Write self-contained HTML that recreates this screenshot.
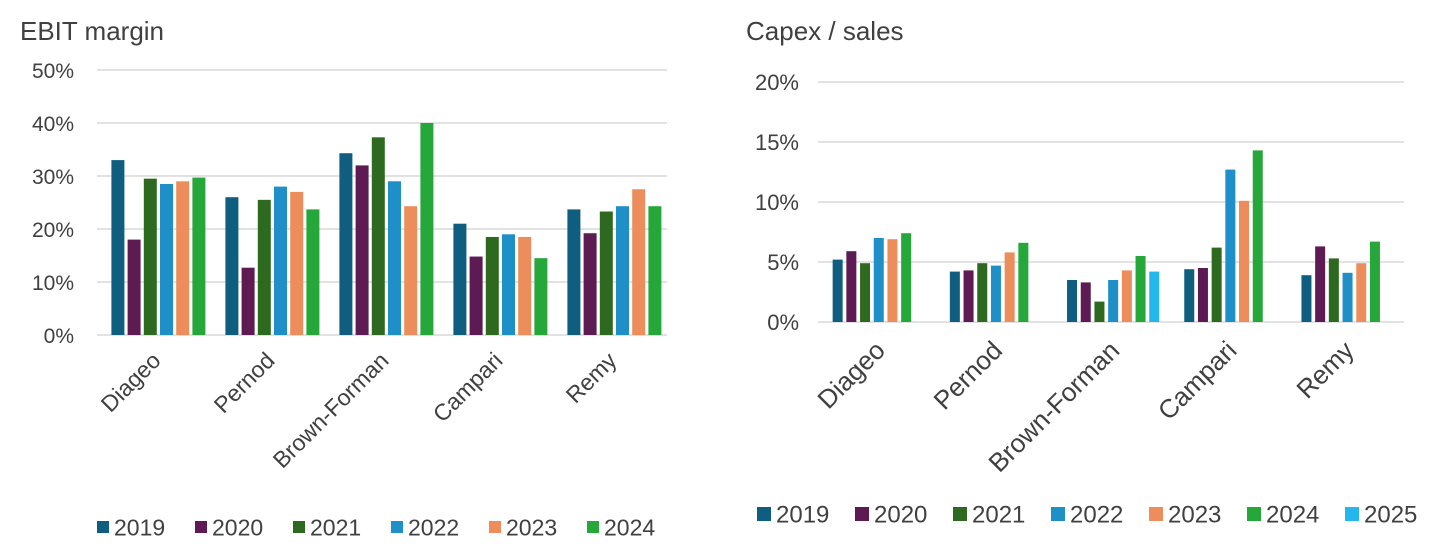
<!DOCTYPE html>
<html><head><meta charset="utf-8">
<style>
body{margin:0;background:#fff;}
svg{display:block;font-family:"Liberation Sans",Arial,sans-serif;}
</style></head>
<body>
<svg id="c" width="1456" height="556"></svg>
<script>
const categories=["Diageo","Pernod","Brown-Forman","Campari","Remy"];
const years1=["2019","2020","2021","2022","2023","2024"];
const ebit2019=[33,26,34.3,21,23.7];
const ebit2020=[18,12.7,32,14.8,19.2];
const ebit2021=[29.5,25.5,37.3,18.5,23.3];
const ebit2022=[28.5,28,29,19,24.3];
const ebit2023=[29,27,24.3,18.5,27.5];
const ebit2024=[29.7,23.7,40,14.5,24.3];
const ebitTicks=[0,10,20,30,40,50];
const years2=["2019","2020","2021","2022","2023","2024","2025"];
const capex2019=[5.2,4.2,3.5,4.4,3.9];
const capex2020=[5.9,4.3,3.3,4.5,6.3];
const capex2021=[4.9,4.9,1.7,6.2,5.3];
const capex2022=[7.0,4.7,3.5,12.7,4.1];
const capex2023=[6.9,5.8,4.3,10.1,4.9];
const capex2024=[7.4,6.6,5.5,14.3,6.7];
const capex2025=[null,null,4.2,null,null];
const capexTicks=[0,5,10,15,20];
const colors=["#0f5e7f","#5e1a53","#2d6a1f","#1f8fc8","#ec8d5b","#25a73a","#24b7ec"];

const svg=document.getElementById('c');
const NS="http://www.w3.org/2000/svg";
function mk(tag,attrs,parent){const e=document.createElementNS(NS,tag);for(const k in attrs)e.setAttribute(k,attrs[k]);(parent||svg).appendChild(e);return e;}

function chart(o){
  const g=mk('g',{});
  
  
  const t=mk('text',{x:o.titleX,y:40,'font-size':26,fill:'#404040'},g);t.textContent=o.title;
  
  
  const y=v=>o.y0-(v/o.max)*(o.y0-o.y1);
  o.ticks.forEach(tv=>{
    const l=mk('line',{x1:o.x0,x2:o.x1,y1:y(tv),y2:y(tv),stroke:'#d9d9d9','stroke-width':1.5},g);
    
    
    const tx=mk('text',{x:o.tickX,y:y(tv)+8,'font-size':o.tickFs,fill:'#404040','text-anchor':'end'},g);
    tx.textContent=tv+'%';
    
    
  });
  const gw=(o.x1-o.x0)/categories.length;
  const ns=o.series.length;
  categories.forEach((c,i)=>{
    const start=o.x0+i*gw+(gw-ns*o.step)/2+o.shift;
    o.series.forEach((s,j)=>{
      const v=s[i]; if(v==null) return;
      const r=mk('rect',{x:start+j*o.step,y:y(v),width:o.bw,height:o.y0-y(v),fill:colors[j]},g);
      
      
    });
    const cx=o.x0+i*gw+gw/2+o.labShift;
    const lb=mk('text',{x:cx,y:o.labY,'font-size':o.labFs,fill:'#404040','text-anchor':'end',transform:`rotate(-45 ${cx} ${o.labY})`},g);
    lb.textContent=c;
    
    
  });
  o.years.forEach((yr,j)=>{
    const lx=o.legX+j*o.legStep;
    const sq=mk('rect',{x:lx,y:o.legY-o.sq/2,width:o.sq,height:o.sq,fill:colors[j]},g);
    
    
    const lt=mk('text',{x:lx+o.sq+5,y:o.legY+o.legFs*0.36,'font-size':o.legFs,fill:'#404040'},g);
    lt.textContent=yr;
    
    
  });
}
chart({name:'ebit-margin-chart',title:'EBIT margin',titleX:20,x0:97,x1:667,y0:335,y1:70,max:50,ticks:ebitTicks,tickX:74,tickFs:21,
  series:[ebit2019,ebit2020,ebit2021,ebit2022,ebit2023,ebit2024],years:years1,bw:13,step:16.2,shift:6,
  labShift:8,labY:362,labFs:23,legX:97,legStep:98,legY:527,sq:12,legFs:23});
chart({name:'capex-sales-chart',title:'Capex / sales',titleX:746,x0:818,x1:1404,y0:322,y1:82,max:20,ticks:capexTicks,tickX:799,tickFs:22,
  series:[capex2019,capex2020,capex2021,capex2022,capex2023,capex2024,capex2025],years:years2,bw:10,step:13.7,shift:4,
  labShift:10,labY:352,labFs:26,legX:757,legStep:98,legY:514,sq:14,legFs:24});
</script>
</body></html>
